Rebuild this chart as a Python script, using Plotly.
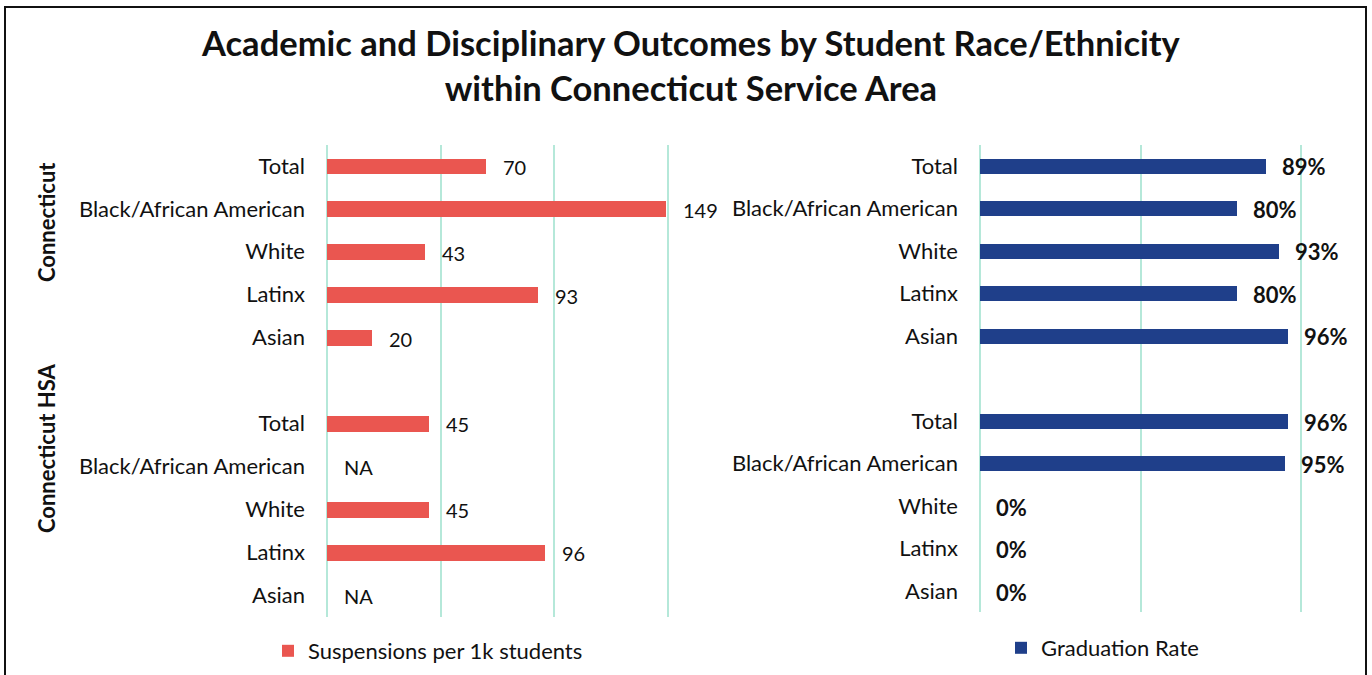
import plotly.graph_objects as go

# Row labels, grouped by area
categories = ["Total", "Black/African American", "White", "Latinx", "Asian"]
groups = ["Connecticut", "Connecticut HSA"]

# Suspensions per 1k students (None = not available)
suspensions_ct = [70, 149, 43, 93, 20]
suspensions_hsa = [45, None, 45, 96, None]

# Graduation rate (fraction)
grad_ct = [0.89, 0.80, 0.93, 0.80, 0.96]
grad_hsa = [0.96, 0.95, 0.0, 0.0, 0.0]

W, H = 1372, 675
FONT = "Lato"
RED = "#EA5650"
BLUE = "#1F3F8A"
GRID = "#B5E8D9"
TEXT = "#111111"

# Row slots: first group 0..4, blank slot 5, second group 6..10
rows = list(range(0, 5)) + list(range(6, 11))
row_labels = categories + categories

susp = suspensions_ct + suspensions_hsa
grad = grad_ct + grad_hsa


def px_x(p):
    return p / W


def px_y(p):
    return 1 - p / H


fig = go.Figure()

fig.add_trace(go.Bar(
    x=susp, y=rows, orientation="h", width=0.37,
    marker=dict(color=RED, line=dict(width=0)),
    name="Suspensions per 1k students",
    xaxis="x", yaxis="y", legend="legend",
    hoverinfo="skip",
))
fig.add_trace(go.Bar(
    x=grad, y=rows, orientation="h", width=0.36,
    marker=dict(color=BLUE, line=dict(width=0)),
    name="Graduation Rate",
    xaxis="x2", yaxis="y2", legend="legend2",
    hoverinfo="skip",
))

annotations = []
# Chart title
annotations.append(dict(
    x=px_x(691), y=px_y(65), xref="paper", yref="paper",
    text="<b>Academic and Disciplinary Outcomes by Student Race/Ethnicity<br>within Connecticut Service Area</b>",
    showarrow=False, xanchor="center", yanchor="middle", align="center",
    font=dict(family=FONT, size=34.5, color=TEXT),
))
# Value labels for suspensions
for r, v in zip(rows, susp):
    annotations.append(dict(
        x=0 if v is None else v, y=r, xref="x", yref="y",
        text="NA" if v is None else f"{v}",
        showarrow=False, xanchor="left", yanchor="middle", xshift=15, yshift=-1,
        font=dict(family=FONT, size=20, color=TEXT),
    ))
# Value labels for graduation rate
for r, v in zip(rows, grad):
    annotations.append(dict(
        x=v, y=r, xref="x2", yref="y2",
        text=f"<b>{round(v * 100)}%</b>",
        showarrow=False, xanchor="left", yanchor="middle", xshift=14, yshift=-1,
        font=dict(family=FONT, size=22, color=TEXT),
    ))
# Group labels
for g, yc in zip(groups, [222, 448]):
    annotations.append(dict(
        x=px_x(46), y=px_y(yc), xref="paper", yref="paper",
        text=f"<b>{g}</b>", textangle=-90, showarrow=False,
        xanchor="center", yanchor="middle",
        font=dict(family=FONT, size=22, color=TEXT),
    ))

axis_common = dict(
    showgrid=True, gridcolor=GRID, gridwidth=2,
    zeroline=True, zerolinecolor=GRID, zerolinewidth=2,
    showticklabels=False, showline=False, ticks="", fixedrange=True,
)
yaxis_common = dict(
    tickvals=rows, ticktext=row_labels, range=[10.5, -0.5],
    showgrid=False, zeroline=False, showline=False, ticks="",
    ticklabelstandoff=21, fixedrange=True,
    tickfont=dict(family=FONT, size=22, color=TEXT),
)

# Axis ranges run slightly past the last gridline so that it is drawn
x1_max, x2_max = 152, 1.012
x1_scale = (668 - 327) / 150
x2_scale = (1301 - 980) / 1.0

fig.update_layout(
    width=W, height=H, autosize=False,
    margin=dict(l=0, r=0, t=0, b=0),
    paper_bgcolor="white", plot_bgcolor="white",
    font=dict(family=FONT, color=TEXT),
    xaxis=dict(domain=[px_x(327), px_x(327 + x1_max * x1_scale)], range=[0, x1_max],
               dtick=50, anchor="y", **axis_common),
    xaxis2=dict(domain=[px_x(980), px_x(980 + x2_max * x2_scale)], range=[0, x2_max],
                dtick=0.5, anchor="y2", **axis_common),
    yaxis=dict(domain=[px_y(616.5), px_y(144.5)], anchor="x", **yaxis_common),
    yaxis2=dict(domain=[px_y(612.3), px_y(144.7)], anchor="x2", **yaxis_common),
    legend=dict(
        x=px_x(268), y=px_y(651), xanchor="left", yanchor="middle",
        orientation="h", bgcolor="rgba(0,0,0,0)",
        font=dict(family=FONT, size=22, color=TEXT),
    ),
    legend2=dict(
        x=px_x(1001), y=px_y(648), xanchor="left", yanchor="middle",
        orientation="h", bgcolor="rgba(0,0,0,0)",
        font=dict(family=FONT, size=22, color=TEXT),
    ),
    annotations=annotations,
    shapes=[dict(
        type="rect", xref="paper", yref="paper",
        x0=px_x(5), x1=px_x(1366), y0=px_y(690), y1=px_y(7),
        line=dict(color="#111111", width=2), fillcolor="rgba(0,0,0,0)",
    )],
    showlegend=True,
    bargap=0,
)

fig.write_html("out.html")
